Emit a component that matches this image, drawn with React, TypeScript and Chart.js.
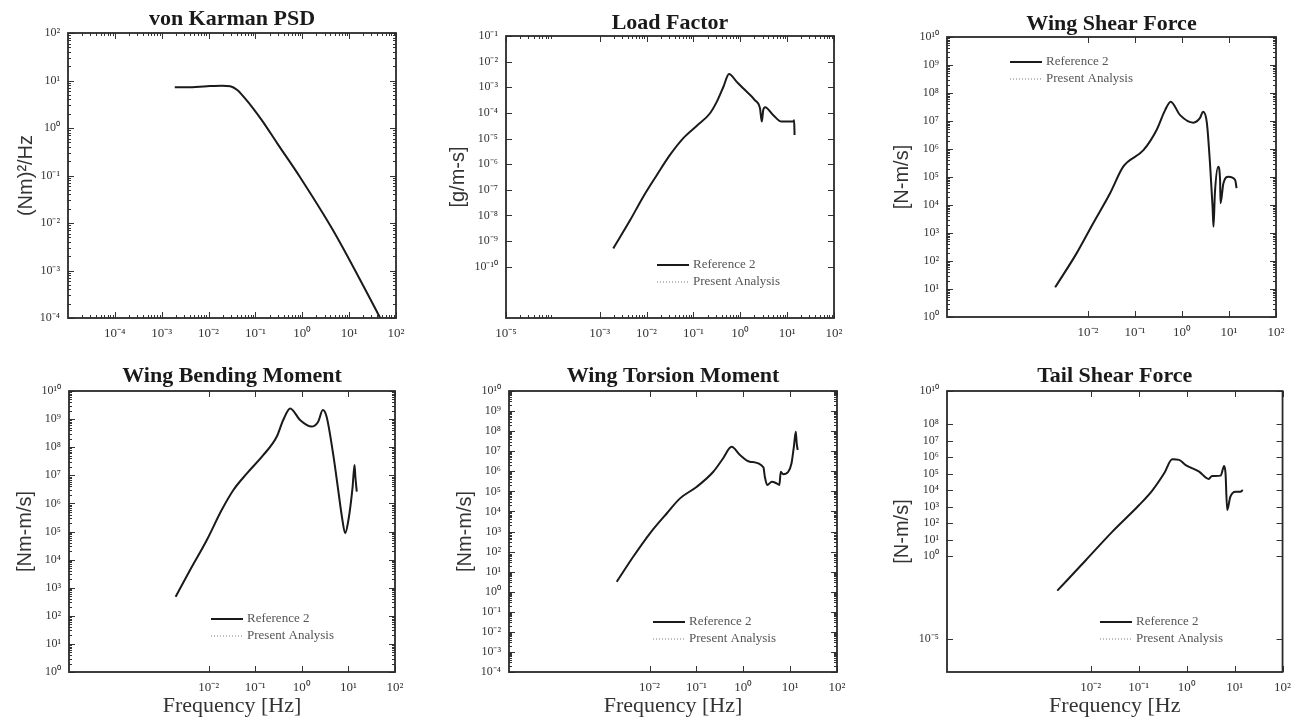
import React, { useEffect, useRef } from 'react';
import { Chart, registerables } from 'chart.js';

Chart.register(...registerables);

// ---------- data ----------
const psdFreq = [0.0019, 0.0035, 0.0093, 0.0195, 0.029, 0.041, 0.060, 0.089, 0.145, 0.29, 0.89, 4.5, 24, 46];
const psdValues = [7.2, 7.2, 7.6, 7.8, 7.6, 6.3, 4.2, 2.6, 1.35, 0.48, 0.093, 0.0071, 0.00034, 0.0001];

const loadFreq = [0.00195, 0.00447, 0.0085, 0.0166, 0.0316, 0.0603, 0.117, 0.224, 0.316, 0.437, 0.575, 0.832, 1.15, 2.04, 2.63, 2.88, 3.09, 3.39, 5.01, 7.59, 13.5, 14.1, 14.4];
const loadValues = [5.2e-10, 6.6e-9, 5.4e-8, 3.8e-7, 2.3e-6, 1.02e-5, 3.1e-5, 9.5e-5, 2.75e-4, 1.05e-3, 3.3e-3, 1.66e-3, 9.1e-4, 3.16e-4, 1.51e-4, 4.6e-5, 1.29e-4, 1.66e-4, 8.3e-5, 4.6e-5, 4.6e-5, 5.2e-5, 1.38e-5];

const shearFreq = [0.002, 0.00575, 0.0129, 0.0295, 0.0562, 0.151, 0.288, 0.437, 0.575, 0.912, 1.74, 2.4, 2.82, 3.39, 3.98, 4.47, 4.68, 5.01, 5.89, 6.46, 6.61, 7.59, 9.77, 13.5, 14.5];
const shearValues = [11.5, 191, 2240, 2.63e4, 2.34e5, 9.1e5, 4.8e6, 2.45e7, 4.9e7, 1.62e7, 8.7e6, 1.26e7, 2.14e7, 8.3e6, 2.34e5, 8700, 1660, 2.63e4, 2.34e5, 7.8e4, 1.15e4, 5.9e4, 1.02e5, 7.8e4, 4.0e4];

const bendFreq = [0.00195, 0.00398, 0.00912, 0.0191, 0.0339, 0.0661, 0.148, 0.288, 0.398, 0.562, 0.912, 1.62, 2.24, 2.82, 3.39, 4.79, 6.03, 7.24, 8.51, 10.0, 12.3, 13.5, 14.1, 15.1];
const bendValues = [479, 4270, 5.0e4, 5.9e5, 3.0e6, 1.17e7, 5.2e7, 2.34e8, 9.3e8, 2.4e9, 9.3e8, 5.4e8, 8.1e8, 2.09e9, 1.23e9, 4.6e7, 3.0e6, 3.4e5, 8.7e4, 2.57e5, 3.9e6, 2.34e7, 8.9e6, 2.63e6];

const torsionFreq = [0.002, 0.00447, 0.0102, 0.0234, 0.0447, 0.102, 0.229, 0.372, 0.562, 0.851, 1.38, 2.69, 2.88, 3.24, 4.07, 5.13, 5.89, 6.31, 7.08, 9.12, 10.7, 12.0, 13.2, 13.8, 14.5];
const torsionValues = [3.16, 55, 813, 8130, 4.47e4, 1.7e5, 9.5e5, 4.47e6, 1.66e7, 6.5e6, 3.0e6, 1.58e6, 5.4e5, 2.09e5, 3.0e5, 2.51e5, 2.09e5, 9.5e5, 7.2e5, 9.5e5, 2.51e6, 1.66e7, 9.3e7, 2.45e7, 1.15e7];

const tailFreq = [0.002, 0.00794, 0.0282, 0.102, 0.195, 0.339, 0.501, 0.692, 0.955, 1.82, 2.88, 3.39, 5.13, 6.03, 6.46, 7.0, 8.13, 10.5, 13.2, 14.8];
const tailValues = [0.0083, 0.6, 31, 1260, 1.02e4, 1.05e5, 7.4e5, 6.8e5, 3.3e5, 1.32e5, 4.8e4, 7.2e4, 7.6e4, 2.9e5, 1.05e5, 631, 3980, 8130, 8130, 1.02e4];

// tick label exponents
const psdXTickExps = [-4, -3, -2, -1, 0, 1, 2];
const psdYTickExps = [-4, -3, -2, -1, 0, 1, 2];
const loadXTickExps = [-5, -3, -2, -1, 0, 1, 2];
const loadYTickExps = [-10, -9, -8, -7, -6, -5, -4, -3, -2, -1];
const freqXTickExps = [-2, -1, 0, 1, 2];
const decadeYTickExps = [0, 1, 2, 3, 4, 5, 6, 7, 8, 9, 10];
const torsionYTickExps = [-4, -3, -2, -1, 0, 1, 2, 3, 4, 5, 6, 7, 8, 9, 10];
const tailYTickExps = [-5, 0, 1, 2, 3, 4, 5, 6, 7, 8, 10];

const seriesLabels = ['Reference 2', 'Present Analysis'];

// ---------- styling ----------
const SERIF = '"Liberation Serif", "Times New Roman", serif';
const SANS = '"Liberation Sans", Arial, sans-serif';

const SUP: Record<string, string> = {
  '-': '\u207B', '0': '\u2070', '1': '\u00B9', '2': '\u00B2', '3': '\u00B3', '4': '\u2074',
  '5': '\u2075', '6': '\u2076', '7': '\u2077', '8': '\u2078', '9': '\u2079',
};
const powLabel = (v: number) =>
  '10' + String(Math.round(Math.log10(v))).split('').map((c) => SUP[c] || c).join('');

const frameTicks = {
  id: 'frameTicks',
  afterDraw(chart: any, _args: any, opts: any) {
    const { ctx, chartArea } = chart;
    const { left, top, right, bottom } = chartArea;
    const x = chart.scales.x;
    const y = chart.scales.y;
    const seg = (x1: number, y1: number, x2: number, y2: number) => {
      ctx.beginPath();
      ctx.moveTo(x1, y1);
      ctx.lineTo(x2, y2);
      ctx.stroke();
    };
    ctx.save();
    ctx.strokeStyle = '#333';
    ctx.lineWidth = 1;
    const MAJ = 6;
    const MIN = 3;
    (opts.xMajor || []).forEach((v: number) => {
      const px = Math.round(x.getPixelForValue(v)) + 0.5;
      seg(px, bottom, px, bottom - MAJ);
      seg(px, top, px, top + MAJ);
    });
    (opts.yMajor || []).forEach((v: number) => {
      const py = Math.round(y.getPixelForValue(v)) + 0.5;
      seg(left, py, left + MAJ, py);
      seg(right, py, right - MAJ, py);
    });
    (opts.xMinorDecades || []).forEach((d: number) => {
      for (let k = 2; k <= 9; k++) {
        const px = Math.round(x.getPixelForValue(k * Math.pow(10, d))) + 0.5;
        seg(px, bottom, px, bottom - MIN);
        seg(px, top, px, top + MIN);
      }
    });
    if (opts.yMinor) {
      const lo = Math.floor(Math.log10(y.min));
      const hi = Math.ceil(Math.log10(y.max));
      for (let d = lo; d < hi; d++) {
        for (let k = 2; k <= 9; k++) {
          const v = k * Math.pow(10, d);
          if (v <= y.min || v >= y.max) continue;
          const py = Math.round(y.getPixelForValue(v)) + 0.5;
          seg(left, py, left + MIN, py);
          seg(right, py, right - MIN, py);
        }
      }
    }
    ctx.lineWidth = 1.8;
    ctx.strokeStyle = '#2a2a2a';
    ctx.strokeRect(left, top, right - left, bottom - top);
    ctx.restore();
  },
};

const insetLegend = {
  id: 'insetLegend',
  afterDraw(chart: any, _args: any, opts: any) {
    if (!opts || !opts.show) return;
    const { ctx, chartArea } = chart;
    const x0 = chartArea.left + opts.dx;
    const y0 = chartArea.top + opts.dy;
    chart.data.datasets.forEach((ds: any, i: number) => {
      const yy = y0 + i * 17;
      ctx.save();
      ctx.strokeStyle = i === 0 ? '#1a1a1a' : '#777';
      ctx.lineWidth = i === 0 ? 2 : 1;
      ctx.setLineDash(i === 0 ? [] : [1, 2]);
      ctx.beginPath();
      ctx.moveTo(x0, yy);
      ctx.lineTo(x0 + 32, yy);
      ctx.stroke();
      ctx.setLineDash([]);
      ctx.fillStyle = '#555';
      ctx.font = `13px ${SERIF}`;
      ctx.textBaseline = 'middle';
      ctx.textAlign = 'left';
      ctx.fillText(ds.label, x0 + 36, yy);
      ctx.restore();
    });
  },
};

type PanelSpec = {
  title: string;
  yTitle: string;
  xTitle: string;
  freq: number[];
  values: number[];
  legend: null | { dx: number; dy: number };
  yMin: number;
  yMax: number;
  xTickExps: number[];
  yTickExps: number[];
  xMinorDecades: number[];
  yMinor: boolean;
  canvas: { l: number; t: number; w: number; h: number };
  box: { l: number; t: number; r: number; b: number };
  titleCenter: number;
  yTitleCenter: number;
};

const TOP_H = 345;
const BOT_T = 345;
const BOT_H = 719 - 345;

const panels: PanelSpec[] = [
  {
    title: 'von Karman PSD', yTitle: '(Nm)\u00B2/Hz', xTitle: '', freq: psdFreq, values: psdValues, legend: null,
    yMin: 1e-4, yMax: 1e2, xTickExps: psdXTickExps, yTickExps: psdYTickExps,
    xMinorDecades: [-5, -4, -3, -2, -1, 0, 1], yMinor: true,
    canvas: { l: 0, t: 0, w: 430, h: TOP_H }, box: { l: 68, t: 33, r: 396, b: 318 }, titleCenter: 19, yTitleCenter: 26,
  },
  {
    title: 'Load Factor', yTitle: '[g/m-s]', xTitle: '', freq: loadFreq, values: loadValues, legend: { dx: 151, dy: 229 },
    yMin: 1e-12, yMax: 1e-1, xTickExps: loadXTickExps, yTickExps: loadYTickExps,
    xMinorDecades: [-5, -3, -2, -1, 0, 1], yMinor: false,
    canvas: { l: 430, t: 0, w: 430, h: TOP_H }, box: { l: 506, t: 36, r: 834, b: 318 }, titleCenter: 23, yTitleCenter: 458,
  },
  {
    title: 'Wing Shear Force', yTitle: '[N-m/s]', xTitle: '', freq: shearFreq, values: shearValues, legend: { dx: 63, dy: 25 },
    yMin: 1, yMax: 1e10, xTickExps: freqXTickExps, yTickExps: decadeYTickExps,
    xMinorDecades: [], yMinor: true,
    canvas: { l: 860, t: 0, w: 439, h: TOP_H }, box: { l: 947, t: 37, r: 1276, b: 317 }, titleCenter: 24, yTitleCenter: 902,
  },
  {
    title: 'Wing Bending Moment', yTitle: '[Nm-m/s]', xTitle: 'Frequency [Hz]', freq: bendFreq, values: bendValues, legend: { dx: 142, dy: 228 },
    yMin: 1, yMax: 1e10, xTickExps: freqXTickExps, yTickExps: decadeYTickExps,
    xMinorDecades: [], yMinor: true,
    canvas: { l: 0, t: BOT_T, w: 430, h: BOT_H }, box: { l: 69, t: 391, r: 395, b: 672 }, titleCenter: 376, yTitleCenter: 25,
  },
  {
    title: 'Wing Torsion Moment', yTitle: '[Nm-m/s]', xTitle: 'Frequency [Hz]', freq: torsionFreq, values: torsionValues, legend: { dx: 144, dy: 231 },
    yMin: 1e-4, yMax: 1e10, xTickExps: freqXTickExps, yTickExps: torsionYTickExps,
    xMinorDecades: [], yMinor: true,
    canvas: { l: 430, t: BOT_T, w: 430, h: BOT_H }, box: { l: 509, t: 391, r: 837, b: 672 }, titleCenter: 376, yTitleCenter: 465,
  },
  {
    title: 'Tail Shear Force', yTitle: '[N-m/s]', xTitle: 'Frequency [Hz', freq: tailFreq, values: tailValues, legend: { dx: 153, dy: 231 },
    yMin: 1e-7, yMax: 1e10, xTickExps: freqXTickExps, yTickExps: tailYTickExps,
    xMinorDecades: [], yMinor: false,
    canvas: { l: 860, t: BOT_T, w: 439, h: BOT_H }, box: { l: 947, t: 391, r: 1284, b: 672 }, titleCenter: 376, yTitleCenter: 902,
  },
];

function Panel({ p }: { p: PanelSpec }) {
  const ref = useRef<HTMLCanvasElement>(null);
  useEffect(() => {
    if (!ref.current) return;
    const c = p.canvas;
    const b = p.box;
    const xMajor = p.xTickExps.map((e) => Math.pow(10, e));
    const yMajor = p.yTickExps.map((e) => Math.pow(10, e));
    const points = p.freq.map((f, i) => ({ x: f, y: p.values[i] }));
    const datasets: any[] = [
      {
        label: p.legend ? seriesLabels[0] : p.title,
        data: points,
        borderColor: '#1a1a1a',
        borderWidth: 2,
        pointRadius: 0,
        cubicInterpolationMode: 'monotone',
        fill: false,
      },
    ];
    if (p.legend) {
      datasets.push({
        label: seriesLabels[1],
        data: points,
        borderColor: '#888',
        borderWidth: 1,
        borderDash: [1, 2],
        pointRadius: 0,
        cubicInterpolationMode: 'monotone',
        fill: false,
      });
    }
    const titleLH = 22;
    const tPadTop = p.titleCenter - c.t - titleLH / 2;
    const tPadBottom = b.t - c.t - titleLH - tPadTop;
    const chart = new Chart(ref.current, {
      type: 'line',
      data: { datasets },
      options: {
        responsive: false,
        animation: false,
        events: [],
        layout: { padding: { left: 0, top: 0, bottom: 0, right: c.l + c.w - b.r } },
        plugins: {
          legend: { display: false },
          tooltip: { enabled: false },
          title: {
            display: true,
            text: p.title,
            fullSize: false,
            color: '#1a1a1a',
            font: { family: SERIF, size: 22, weight: 'bold', lineHeight: 1 },
            padding: { top: tPadTop, bottom: tPadBottom },
          },
          insetLegend: p.legend ? { show: true, dx: p.legend.dx, dy: p.legend.dy } : { show: false },
          frameTicks: {
            xMajor,
            yMajor,
            xMinorDecades: p.xMinorDecades,
            yMinor: p.yMinor,
          },
        } as any,
        scales: {
          x: {
            type: 'logarithmic',
            position: 'bottom',
            min: 1e-5,
            max: 1e2,
            grid: { display: false, drawTicks: false },
            border: { display: false },
            afterBuildTicks: (s: any) => {
              s.ticks = xMajor.map((v) => ({ value: v }));
            },
            afterFit: (s: any) => {
              s.height = c.t + c.h - b.b;
            },
            ticks: {
              autoSkip: false,
              maxRotation: 0,
              minRotation: 0,
              padding: 8,
              color: '#333',
              font: { family: SERIF, size: 13 },
              callback: (v: any) => powLabel(Number(v)),
            },
            title: p.xTitle
              ? { display: true, text: p.xTitle, color: '#333', font: { family: SERIF, size: 22 }, padding: { top: 0, bottom: 0 } }
              : { display: false },
          },
          y: {
            type: 'logarithmic',
            position: 'left',
            min: p.yMin,
            max: p.yMax,
            grid: { display: false, drawTicks: false },
            border: { display: false },
            afterBuildTicks: (s: any) => {
              s.ticks = yMajor.map((v) => ({ value: v }));
            },
            afterFit: (s: any) => {
              s.width = b.l - c.l;
            },
            ticks: {
              autoSkip: false,
              padding: 8,
              color: '#333',
              font: { family: SERIF, size: 12 },
              callback: (v: any) => powLabel(Number(v)),
            },
            title: {
              display: true,
              text: p.yTitle,
              color: '#333',
              font: { family: SANS, size: 20 },
              padding: { top: p.yTitleCenter - c.l - 12, bottom: 0 },
            },
          },
        },
      } as any,
      plugins: [frameTicks, insetLegend],
    });
    return () => chart.destroy();
  }, [p]);
  return (
    <canvas
      ref={ref}
      width={p.canvas.w}
      height={p.canvas.h}
      style={{ position: 'absolute', left: p.canvas.l, top: p.canvas.t, width: p.canvas.w, height: p.canvas.h }}
    />
  );
}

export default function App() {
  return (
    <div style={{ position: 'absolute', left: 0, top: 0, width: 1299, height: 719, background: '#fff', overflow: 'hidden' }}>
      {panels.map((p) => (
        <Panel key={p.title} p={p} />
      ))}
    </div>
  );
}
